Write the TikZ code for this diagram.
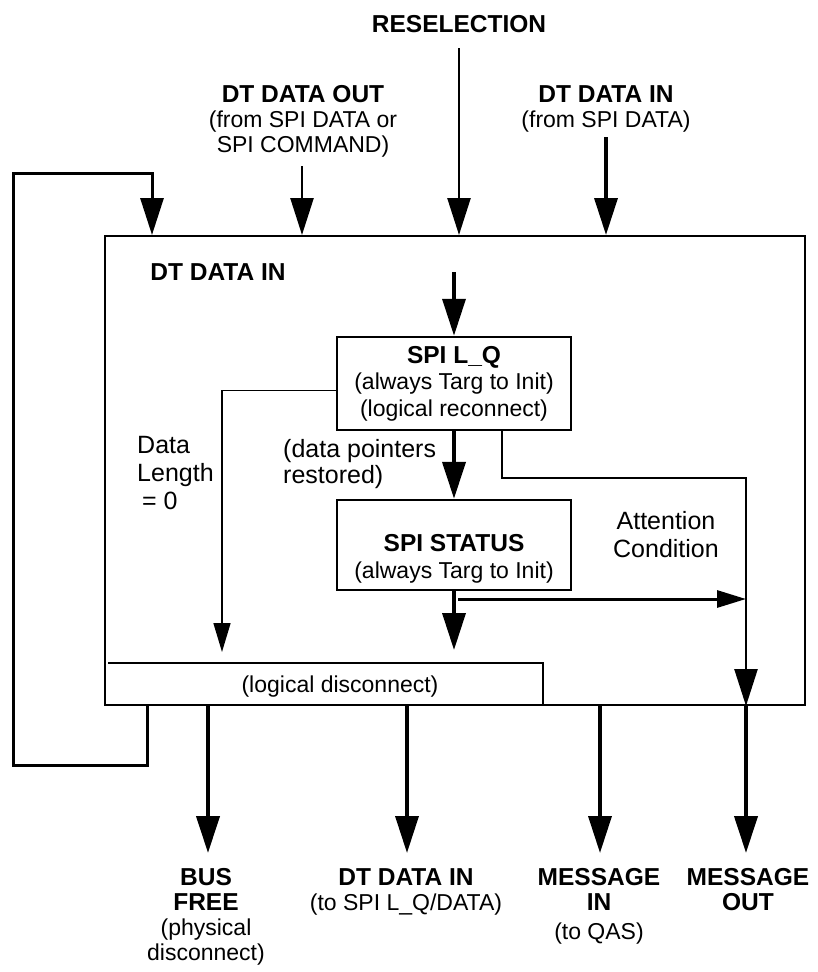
\documentclass[tikz,border=0pt]{standalone}
\usepackage{fontspec}
\setmainfont{Liberation Sans}
\usetikzlibrary{arrows.meta}
\newcommand{\hd}[1]{{\fontsize{24.5}{26}\selectfont\bfseries #1}}

\begin{document}
\begin{tikzpicture}[
    x=1pt, y=-1pt,
    box/.style={
        rectangle, draw, line width=2.5pt, 
        minimum width=234pt, inner sep=0pt,
        align=center, font=\fontsize{23}{26.5}\selectfont
    },
    txt/.style={align=center, inner sep=0pt, font=\fontsize{23}{25}\selectfont},
    note/.style={inner sep=0pt, font=\fontsize{25}{28}\selectfont},
    bigarrow/.style={-{Triangle[length=37pt, width=23pt]}},
    smallarrow/.style={-{Triangle[length=29pt, width=17pt]}}
]
\useasboundingbox (0,0) rectangle (817,972);

% ==================== LABELS (top) ====================
\node[txt, anchor=north] (reselLbl) at (459,15) {\hd{RESELECTION}};
\node[txt, anchor=north] (outLbl) at (303,85) {\hd{DT DATA OUT}\\(from SPI DATA or\\SPI COMMAND)};
\node[txt, anchor=north] (inLbl) at (606,85) {\hd{DT DATA IN}\\(from SPI DATA)};

% ==================== PHASE BOX ====================
\node[draw, line width=2pt, minimum width=700pt, minimum height=469pt,
      inner sep=0pt, anchor=north west] (phase) at (104,235) {};
\node[txt, anchor=north] (phaseLbl) at (218,263) {\hd{DT DATA IN}};

\node[box, minimum height=93pt] (lq) at (454,383.5) {\hd{SPI L\_Q}\\(always Targ to Init)\\(logical reconnect)};
\node[box, minimum height=90pt] (status) at (454,545) {\rule{0pt}{45pt}\hd{SPI STATUS}\\(always Targ to Init)};

% logical disconnect (open on the left)
\coordinate (discL) at (108,663);
\coordinate (discR) at (543,663);
\draw[line width=2pt] (discL) -- (discR) -- (discR |- phase.south);
\node[txt] (discLbl) at (340,687) {(logical disconnect)};

% notes on the connectors
\node[note, align=left, anchor=north west] (lenLbl) at (137,436) {Data\\Length\\\hspace*{5pt}= 0};
\node[note, align=left, anchor=north west, font=\fontsize{25}{26}\selectfont] (ptrLbl) at (283,439) {(data pointers\\restored)};
\node[note, align=center, anchor=north] (attLbl) at (666,511) {Attention\\Condition};

% ==================== LABELS (bottom) ====================
\node[txt, anchor=north] (busLbl) at (206,868) {\hd{BUS}\\\hd{FREE}\\(physical\\disconnect)};
\node[txt, anchor=north] (dtinLbl) at (406,868) {\hd{DT DATA IN}\\(to SPI L\_Q/DATA)};
\node[txt, anchor=north] (msgInLbl) at (599,868) {\hd{MESSAGE}\\\hd{IN}\\[4pt](to QAS)};
\node[txt, anchor=north] (msgOutLbl) at (748,868) {\hd{MESSAGE}\\\hd{OUT}};

% ==================== ARROWS ====================
% inputs
\coordinate (reselTop) at (459,48);
\coordinate (outTop) at (302,166);
\coordinate (inTop) at (606,137);
\draw[bigarrow, line width=2.5pt] (reselTop) -- (reselTop |- phase.north);
\draw[bigarrow, line width=2.5pt] (outTop) -- (outTop |- phase.north);
\draw[bigarrow, line width=3.5pt] (inTop) -- (inTop |- phase.north);

% loop back from the bottom to the top
\coordinate (loopStart) at (147,704);
\coordinate (loopLow) at (13,765);
\coordinate (loopHigh) at (13,173);
\coordinate (loopEnd) at (152,235);
\draw[bigarrow, line width=3pt] (loopStart) |- (loopLow) -- (loopHigh) -| (loopEnd);

% inside the phase
\coordinate (lqIn) at (454,272);
\draw[bigarrow, line width=3.5pt] (lqIn) -- (lq);
\draw[bigarrow, line width=4pt] (lq) -- (status);

\coordinate (lenDrop) at (222,652);
\draw[smallarrow, line width=1.5pt] ([yshift=-7pt]lq.west) -| (lenDrop);

\coordinate (attTurn) at (746,478);
\draw[bigarrow, line width=2.5pt] ([xshift=48pt]lq.south) |- (attTurn) -- (attTurn |- phase.south);

\coordinate (statusDrop) at (454,650);
\coordinate (statusTap) at (458,599);
\draw[bigarrow, line width=3.5pt] (status) -- (statusDrop);
\draw[smallarrow, line width=3pt] (statusTap) -- (attTurn |- statusTap);

% outputs
\coordinate (busOut) at (208,853);
\coordinate (dtinOut) at (407,853);
\coordinate (msgInOut) at (600,853);
\coordinate (msgOutOut) at (746,853);
\draw[bigarrow, line width=4pt] (busOut |- phase.south) -- (busOut);
\draw[bigarrow, line width=3.5pt] (dtinOut |- phase.south) -- (dtinOut);
\draw[bigarrow, line width=3.5pt] (msgInOut |- phase.south) -- (msgInOut);
\draw[bigarrow, line width=4pt] (msgOutOut |- phase.south) -- (msgOutOut);

\end{tikzpicture}
\end{document}
